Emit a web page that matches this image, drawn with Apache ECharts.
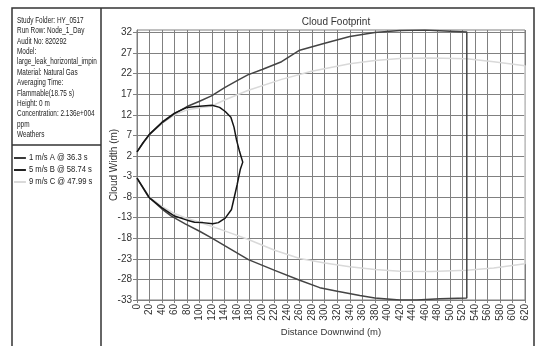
<!DOCTYPE html>
<html><head><meta charset="utf-8">
<script src="https://cdn.jsdelivr.net/npm/echarts@6/dist/echarts.min.js"></script>
<style>html,body{margin:0;padding:0;background:#fff}#c{width:536px;height:346px}</style>
</head><body><div id="c"></div>
<script>
var FONT = '"Liberation Sans",Arial,sans-serif';
var seriesNames = ['1 m/s A @ 36.3 s', '5 m/s B @ 58.74 s', '9 m/s C @ 47.99 s'];
var infoLines = ['Study Folder: HY_0517','Run Row: Node_1_Day','Audit No: 820292','Model:','large_leak_horizontal_impinge','Material: Natural Gas','Averaging Time:','Flammable(18.75 s)','Height: 0 m','Concentration: 2.136e+004','ppm','Weathers'];
var yTicks = [-33,-28,-23,-18,-13,-8,-3,2,7,12,17,22,27,32];
var windA = [[0,3],[10,5.3],[20,7.3],[40,10.2],[60,12.4],[80,13.8],[95,14],[110,14.2],[120,14.3],[132,13.8],[141,12.8],[150,11.4],[155,9],[159,5.9],[164,3],[169,0.5],[165,-1.3],[160,-5],[154,-9],[151,-11],[141,-13.1],[130,-14.2],[121,-14.5],[105,-14.2],[92,-14.1],[80,-13.6],[60,-12.6],[40,-10.6],[20,-8.2],[0,-3.4]];
var windB = [[0,3],[10,5.2],[20,7.2],[40,10],[60,12.3],[80,14],[100,15.3],[119,16.6],[140,18.6],[160,20.3],[177,21.7],[200,23],[231,24.9],[260,27.7],[300,29.4],[340,31],[380,32],[420,32.5],[460,32.6],[500,32.3],[527,32.1],[527,-32.5],[484,-32.7],[447,-33],[420,-33],[380,-32.5],[356,-31.9],[320,-30.9],[292,-30],[260,-28.2],[220,-25.8],[178,-23.2],[140,-19.8],[119,-17.9],[100,-16.3],[77,-14.5],[55,-12.6],[40,-10.9],[18,-7.9],[0,-3.4]];
var windC = [[0,3],[10,5.2],[20,7.2],[40,10],[60,12],[80,13.2],[100,13.7],[119,14.1],[140,15.6],[177,17.9],[231,20.6],[279,22.6],[340,24.4],[380,25.2],[420,25.7],[470,25.8],[527,25.6],[570,24.9],[620,23.9],[620,-24.2],[570,-25.2],[527,-25.8],[470,-26.1],[420,-26],[380,-25.6],[340,-24.9],[300,-24],[260,-22.9],[220,-20.9],[178,-18.3],[140,-16.2],[119,-15.1],[100,-14.1],[77,-13],[60,-12],[39,-10.2],[20,-8],[0,-3.4]];
var colors = ['#151515', '#444444', '#d9d9d9'];
var legendColors = ['#3a3a3a', '#222222', '#d9d9d9'];

var chart = echarts.init(document.getElementById('c'), null, {renderer: 'canvas'});
var dataSets = [windA, windB, windC];

var legendChildren = [];
seriesNames.forEach(function (n, i) {
  legendChildren.push({type: 'line', shape: {x1: 0, y1: i * 12 + 6, x2: 14, y2: i * 12 + 6}, style: {stroke: legendColors[i], lineWidth: 2}});
  legendChildren.push({type: 'text', x: 17.5, y: i * 12 + 6, style: {text: n, fontFamily: FONT, fontSize: 9, fill: '#222', verticalAlign: 'middle'}});
});

var option = {
  animation: false,
  backgroundColor: '#fff',
  title: {text: 'Cloud Footprint', left: 331, textAlign: 'center', top: 12,
    textStyle: {fontFamily: FONT, fontSize: 10, fontWeight: 'normal', color: '#333'}},
  grid: {left: 137, right: 11, top: 30, bottom: 46, show: true, borderColor: '#808080', borderWidth: 1, containLabel: false, outerBoundsMode: 'none'},
  xAxis: {type: 'value', min: 0, max: 620, interval: 20,
    name: 'Distance Downwind (m)', nameLocation: 'middle', nameGap: 27, nameMoveOverlap: false,
    nameTextStyle: {fontFamily: FONT, fontSize: 9.5, color: '#333'},
    axisLine: {show: true, onZero: false, lineStyle: {color: '#808080'}},
    axisTick: {show: true, length: 3, lineStyle: {color: '#808080'}},
    axisLabel: {rotate: 90, interval: 0, margin: 4, fontFamily: FONT, fontSize: 10, color: '#333', hideOverlap: false},
    splitLine: {show: true, lineStyle: {color: '#808080', width: 1}}},
  yAxis: {type: 'value', min: -33, max: 32.6,
    name: 'Cloud Width (m)', nameLocation: 'middle', nameGap: 18, nameRotate: 90, nameMoveOverlap: false,
    nameTextStyle: {fontFamily: FONT, fontSize: 10, color: '#333'},
    axisLine: {show: true, onZero: false, lineStyle: {color: '#808080'}},
    axisTick: {show: true, length: 4, customValues: yTicks, lineStyle: {color: '#808080'}},
    axisLabel: {customValues: yTicks, margin: 5, fontFamily: FONT, fontSize: 10, color: '#333', showMinLabel: true, showMaxLabel: true},
    splitLine: {show: true, lineStyle: {color: '#808080', width: 1}}},
  series: seriesNames.map(function (n, i) {
    return {name: n, type: 'line', data: dataSets[i], symbol: 'none', smooth: false,
      color: colors[i], lineStyle: {color: colors[i], width: 1.5}, z: 3 - i};
  }),
  graphic: [
    {type: 'rect', shape: {x: 12, y: 8, width: 522, height: 340}, style: {fill: 'none', stroke: '#333', lineWidth: 1.5}, silent: true},
    {type: 'line', shape: {x1: 101, y1: 8, x2: 101, y2: 346}, style: {stroke: '#333', lineWidth: 1.5}},
    {type: 'line', shape: {x1: 12, y1: 145, x2: 101, y2: 145}, style: {stroke: '#333', lineWidth: 1.5}},
    {type: 'text', x: 17, y: 15, scaleX: 0.69, style: {text: infoLines.join('\n'), fontFamily: FONT, fontSize: 9.3, lineHeight: 10.4, fill: '#222',
      width: 122, overflow: 'truncate', ellipsis: ''}},
    {type: 'group', x: 14, y: 152, scaleX: 0.85, children: legendChildren}
  ]
};
chart.setOption(option);
</script></body></html>
